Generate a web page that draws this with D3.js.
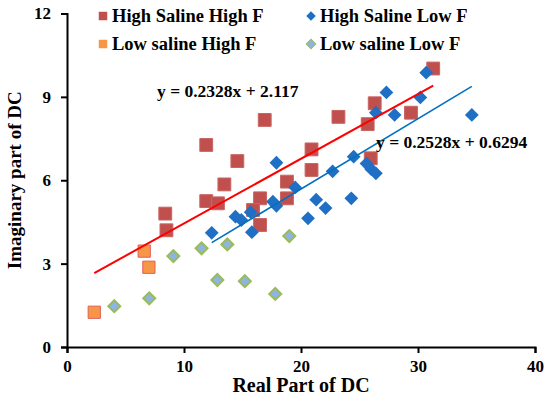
<!DOCTYPE html>
<html lang="en">

<head>
  <meta charset="UTF-8">
  <title>DC scatter</title>
  <style>
    body { margin: 0; background: #fff; }
    text { font-family: "Liberation Serif", "Times New Roman", serif; font-weight: bold; fill: #000; }
  </style>
</head>

<body>
  <svg id="svg" width="550" height="398"></svg>

  <script src="https://d3js.org/d3.v7.min.js"></script>
  <script>
    // [real, imaginary]
    const highSalineHighF = [
      [8.4, 4.8], [8.5, 4.2], [11.9, 7.27], [11.9, 5.25], [12.9, 5.17], [13.45, 5.85],
      [14.56, 6.69], [16.9, 8.17], [16.5, 5.35], [16.5, 4.39], [15.9, 4.93], [18.8, 5.95],
      [18.8, 5.35], [20.9, 7.11], [20.9, 6.37], [23.2, 8.28], [25.7, 8.02], [26.3, 8.77],
      [25.96, 6.79], [29.4, 8.43], [31.3, 10.02]
    ]
    const highSalineLowF = [
      [12.37, 4.11], [14.4, 4.69], [14.9, 4.57], [15.7, 4.85], [15.8, 4.13], [17.6, 5.23],
      [17.9, 5.08], [17.9, 6.63], [19.5, 5.74], [20.6, 4.63], [21.3, 5.3], [22.1, 5.0],
      [22.7, 6.32], [24.3, 5.35], [24.5, 6.85], [25.6, 6.6], [26.0, 6.4], [26.4, 6.25],
      [26.4, 8.43], [27.3, 9.16], [28.0, 8.35], [30.2, 8.98], [30.7, 9.87], [34.6, 8.35]
    ]
    const lowSalineHighF = [[2.33, 1.25], [6.6, 3.45], [7.0, 2.87]]
    const lowSalineLowF = [
      [4.04, 1.47], [7.03, 1.75], [9.09, 3.27], [11.5, 3.55], [12.85, 2.41],
      [13.7, 3.69], [15.2, 2.37], [17.8, 1.91], [19.0, 3.99]
    ]
    const xTicks = [0, 10, 20, 30, 40]
    const yTicks = [0, 3, 6, 9, 12]
    const fitHighF = { slope: 0.2328, intercept: 2.117, label: "y = 0.2328x + 2.117" }
    const fitLowF = { slope: 0.2528, intercept: 0.6294, label: "y = 0.2528x + 0.6294" }

    const svg = d3.select("#svg")

    const x = d3.scaleLinear().domain([0, 40]).range([67, 535])
    const y = d3.scaleLinear().domain([0, 12]).range([347, 13.5])

    // axes
    const xAxis = svg.append("g")
      .attr("transform", `translate(0,${y(0)})`)
      .call(d3.axisBottom(x).tickValues(xTicks).tickSizeOuter(0).tickSize(6).tickPadding(7))
    const yAxis = svg.append("g")
      .attr("transform", `translate(${x(0)},0)`)
      .call(d3.axisLeft(y).tickValues(yTicks).tickSizeOuter(0).tickSize(6).tickPadding(10))

    ;[xAxis, yAxis].forEach(a => {
      a.select(".domain").attr("stroke", "#000").attr("stroke-width", 2)
      a.selectAll(".tick line").attr("stroke", "#000").attr("stroke-width", 2)
      a.selectAll(".tick text")
        .style("font-family", '"Liberation Serif", serif')
        .style("font-weight", "bold")
        .style("font-size", "17px")
        .attr("fill", "#000")
    })
    xAxis.selectAll(".tick text").attr("dy", "0.7em")

    svg.append("text")
      .attr("x", 301).attr("y", 392)
      .attr("text-anchor", "middle")
      .style("font-size", "20px")
      .text("Real Part of DC")

    svg.append("text")
      .attr("transform", `translate(21,${(y(0) + y(12)) / 2}) rotate(-90)`)
      .attr("text-anchor", "middle")
      .style("font-size", "19px")
      .text("Imaginary part of DC")

    // trendlines
    const line = d3.line().x(d => x(d[0])).y(d => y(d[1]))
    const highFExt = d3.extent(highSalineHighF.concat(lowSalineHighF), d => d[0])
    const lowFExt = d3.extent(highSalineLowF, d => d[0])

    const square = d3.symbol().type(d3.symbolSquare)

    // points
    svg.append("g").selectAll("path")
      .data(lowSalineLowF).join("path")
      .attr("d", square.size(72))
      .attr("transform", d => `translate(${x(d[0])},${y(d[1])}) rotate(45)`)
      .attr("fill", "#8db4e2").attr("stroke", "#9bbb59").attr("stroke-width", 2)

    svg.append("g").selectAll("path")
      .data(lowSalineHighF).join("path")
      .attr("d", square.size(150))
      .attr("transform", d => `translate(${x(d[0])},${y(d[1])})`)
      .attr("fill", "#f79646").attr("stroke", "#e0605a").attr("stroke-width", 1)

    svg.append("g").selectAll("path")
      .data(highSalineHighF).join("path")
      .attr("d", square.size(165))
      .attr("transform", d => `translate(${x(d[0])},${y(d[1])})`)
      .attr("fill", "#c0504d").attr("stroke", "#c96562").attr("stroke-width", 1)

    svg.append("g").selectAll("path")
      .data(highSalineLowF).join("path")
      .attr("d", square.size(95))
      .attr("transform", d => `translate(${x(d[0])},${y(d[1])}) rotate(45)`)
      .attr("fill", "#1f6fc5")

    svg.append("path")
      .attr("d", line(highFExt.map(v => [v, fitHighF.slope * v + fitHighF.intercept])))
      .attr("stroke", "#ff0000").attr("stroke-width", 2).attr("fill", "none")
    svg.append("path")
      .attr("d", line(lowFExt.map(v => [v, fitLowF.slope * v + fitLowF.intercept])))
      .attr("stroke", "#0070c0").attr("stroke-width", 1.6).attr("fill", "none")

    svg.append("text").attr("x", 157).attr("y", 97).style("font-size", "17.5px").text(fitHighF.label)
    svg.append("text").attr("x", 376).attr("y", 148).style("font-size", "17.5px").text(fitLowF.label)

    // legend
    const legend = [
      { label: "High Saline High F", fill: "#c0504d", stroke: "none", diamond: false, lx: 103, ly: 16 },
      { label: "High Saline Low F", fill: "#1f6fc5", stroke: "none", diamond: true, lx: 311, ly: 16 },
      { label: "Low saline High F", fill: "#f79646", stroke: "none", diamond: false, lx: 103, ly: 44 },
      { label: "Low saline Low F", fill: "#8db4e2", stroke: "#9bbb59", diamond: true, lx: 311, ly: 44 }
    ]
    const lg = svg.append("g").selectAll("g").data(legend).join("g")
      .attr("transform", d => `translate(${d.lx},${d.ly})`)
    lg.append("path")
      .attr("d", d => square.size(d.diamond ? 45 : 72)())
      .attr("transform", d => d.diamond ? "rotate(45)" : null)
      .attr("fill", d => d.fill).attr("stroke", d => d.stroke).attr("stroke-width", 1)
    lg.append("text")
      .attr("x", 9).attr("y", 6)
      .style("font-size", "18.5px")
      .text(d => d.label)
  </script>
</body>

</html>
